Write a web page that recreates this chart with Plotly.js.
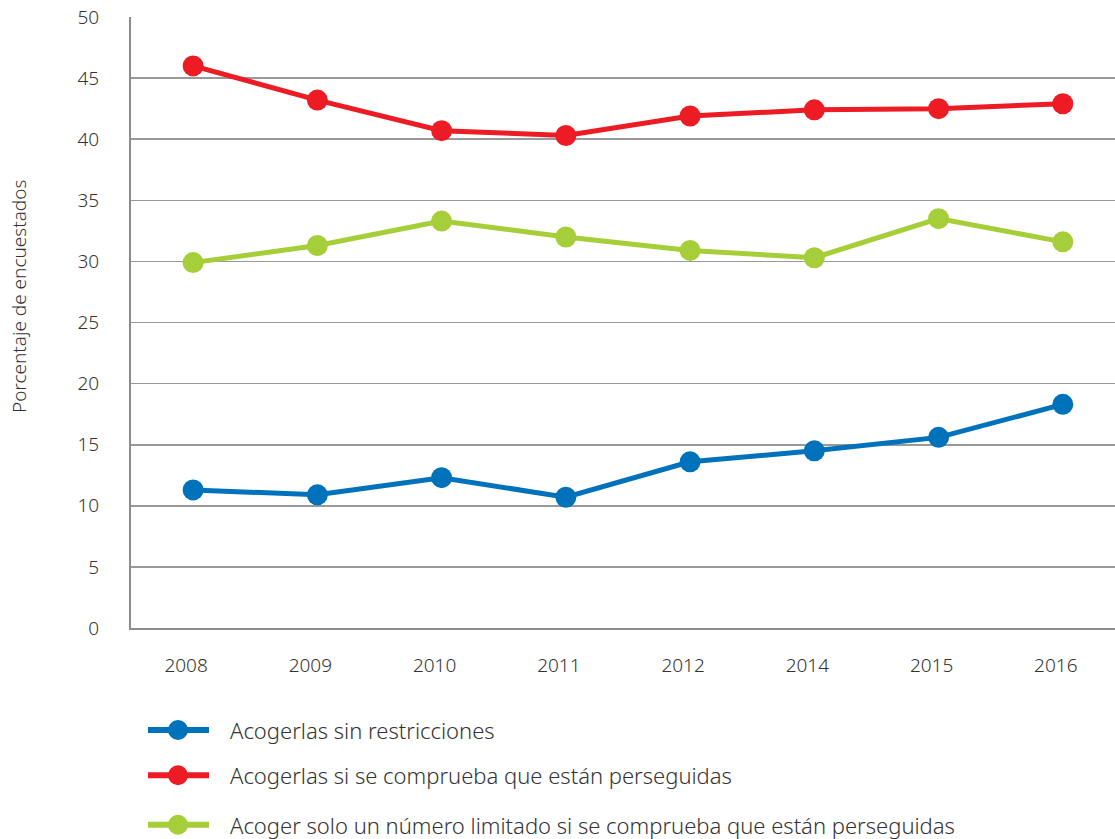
<!DOCTYPE html>
<html>
<head>
<meta charset="utf-8">
<script src="https://cdn.plot.ly/plotly-3.0.1.min.js"></script>
<style>html,body{margin:0;padding:0;background:#fff;}#chart{width:1115px;height:839px;}</style>
</head>
<body>
<div id="chart"></div>
<script>
const years = ["2008", "2009", "2010", "2011", "2012", "2014", "2015", "2016"];
const seriesNames = [
  "Acogerlas sin restricciones",
  "Acogerlas si se comprueba que están perseguidas",
  "Acoger solo un número limitado si se comprueba que están perseguidas"
];
const sinRestricciones = [11.3, 10.9, 12.3, 10.7, 13.6, 14.5, 15.6, 18.3];
const siPerseguidas = [46.0, 43.2, 40.7, 40.3, 41.9, 42.4, 42.5, 42.9];
const numeroLimitado = [29.9, 31.3, 33.3, 32.0, 30.9, 30.3, 33.5, 31.6];
const yTicks = [0, 5, 10, 15, 20, 25, 30, 35, 40, 45, 50];
const colors = ["#0072bc", "#ed1c24", "#a6ce39"];
const yTitle = "Porcentaje de encuestados";

const allValues = [sinRestricciones, siPerseguidas, numeroLimitado];
const font = "'Noto Sans', 'Open Sans', sans-serif";

const traces = allValues.map((vals, i) => ({
  type: "scatter",
  mode: "lines+markers",
  x: years,
  y: vals,
  name: seriesNames[i],
  line: {color: colors[i], width: 5},
  marker: {color: colors[i], size: 21, symbol: "circle"},
  showlegend: false,
  cliponaxis: false
}));

// manual legend
const legendY = [-0.167, -0.241, -0.322];
const shapes = [];
const annotations = [];
seriesNames.forEach((name, i) => {
  shapes.push({
    type: "line", xref: "paper", yref: "paper",
    xsizemode: "pixel", xanchor: 0,
    x0: 17, x1: 78, y0: legendY[i], y1: legendY[i],
    line: {color: colors[i], width: 6},
    layer: "above"
  });
  shapes.push({
    type: "circle", xref: "paper", yref: "paper",
    xsizemode: "pixel", ysizemode: "pixel",
    xanchor: 0, yanchor: legendY[i],
    x0: 37, x1: 57, y0: -10, y1: 10,
    fillcolor: colors[i], line: {width: 0},
    layer: "above"
  });
  annotations.push({
    xref: "paper", yref: "paper",
    x: 0.1, y: legendY[i],
    xanchor: "left", yanchor: "middle",
    text: name, showarrow: false, borderpad: 0,
    font: {family: font, size: 22, weight: 300, color: "#333"}
  });
});

annotations.push({
  xref: "paper", yref: "paper",
  x: -0.114, y: 0.543,
  xanchor: "center", yanchor: "middle",
  textangle: -90,
  text: yTitle, showarrow: false,
  font: {family: font, size: 19, weight: 300, color: "#333"}
});

const layout = {
  width: 1115, height: 839,
  margin: {l: 131, r: 0, t: 17, b: 211},
  paper_bgcolor: "#fff", plot_bgcolor: "#fff",
  font: {family: font, color: "#333"},
  xaxis: {
    type: "category",
    range: [-0.5, 7.42],
    showgrid: false,
    zeroline: false,
    showline: true, linecolor: "#8c8c8c", linewidth: 2,
    ticks: "", ticklabelstandoff: 19, ticklabelshift: -7,
    tickfont: {family: font, size: 19, weight: 300, color: "#333"},
    fixedrange: true
  },
  yaxis: {
    range: [0, 50],
    tickvals: yTicks,
    showgrid: true, gridcolor: "#999", gridwidth: 1.6,
    zeroline: false,
    showline: true, linecolor: "#8c8c8c", linewidth: 2,
    ticks: "", ticklabelstandoff: 26,
    tickfont: {family: font, size: 19, weight: 300, color: "#333"},
    fixedrange: true
  },
  shapes: shapes,
  annotations: annotations
};

Plotly.newPlot("chart", traces, layout, {displayModeBar: false, staticPlot: true});
</script>
</body>
</html>
